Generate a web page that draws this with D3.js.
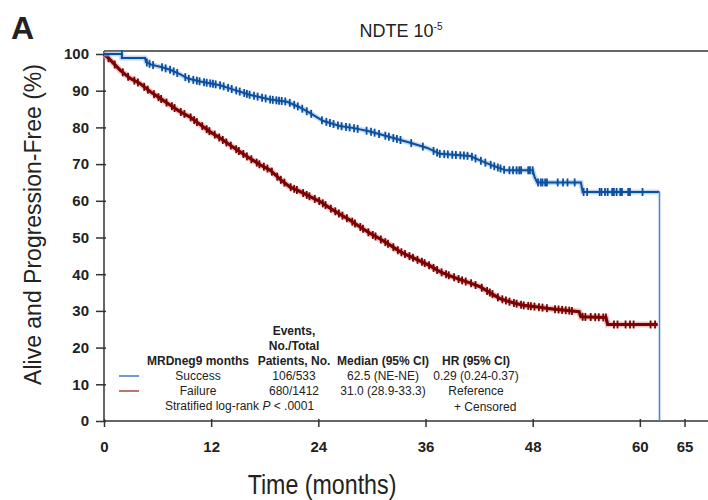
<!DOCTYPE html>
<html>
<head>
<meta charset="utf-8">
<script src="https://cdn.jsdelivr.net/npm/d3@7"></script>
<style>
  body { margin: 0; background: #fff; }
  svg text { font-family: "Liberation Sans", Arial, sans-serif; fill: #222; }
</style>
</head>
<body>
<div class="chart"></div>
<script>
// survival curves: [month, % alive and progression-free]
const successCurve = [
  [0, 100], [2.0, 100], [2.0, 98.9], [4.6, 98.9], [4.7, 97.8], [5.3, 97.1],
  [6.5, 96.4], [7.4, 95.7], [8.5, 94.5], [9.4, 93.3], [10.8, 92.5], [13.0, 91.5],
  [14.5, 90.3], [16.3, 88.9], [18.6, 87.6], [20.5, 87.0], [21.9, 85.5], [23.0, 84.0],
  [24.5, 81.8], [26.4, 80.4], [28.0, 79.8], [29.8, 78.9], [32.0, 77.4], [34.3, 75.8],
  [36.2, 74.4], [37.6, 72.8], [41.0, 72.2], [42.1, 71.0], [43.6, 69.5], [45.0, 68.3],
  [48.0, 68.3], [48.2, 66.6], [48.5, 65.0], [53.4, 65.0], [53.6, 62.4], [62.2, 62.4],
  [62.2, 0]
];
const failureCurve = [
  [0, 100], [0.7, 98.4], [1.8, 95.6], [2.9, 93.4], [4.0, 92.0], [5.2, 89.7],
  [6.3, 87.9], [7.4, 86.1], [8.5, 84.3], [9.6, 82.9], [10.8, 80.7], [11.9, 78.8],
  [13.0, 77.1], [14.1, 75.2], [15.2, 73.4], [16.3, 71.6], [17.5, 69.8], [18.6, 68.4],
  [19.7, 65.9], [20.8, 63.8], [21.9, 62.6], [23.1, 61.1], [24.2, 59.8], [25.3, 58.0],
  [26.4, 56.4], [27.5, 54.8], [28.6, 53.0], [29.8, 51.1], [30.9, 49.6], [32.0, 48.0],
  [33.1, 46.2], [34.3, 44.8], [35.4, 43.6], [36.5, 42.3], [37.6, 40.7], [38.7, 39.6],
  [40.0, 38.4], [41.0, 37.6], [42.1, 36.6], [43.2, 35.0], [44.3, 33.4], [45.8, 32.2],
  [47.0, 31.5], [48.8, 31.0], [49.6, 30.7], [53.2, 29.8], [53.4, 28.4], [56.2, 28.2],
  [56.4, 26.3], [62.0, 26.3]
];

// censoring times (months)
const successCensored = [
  2.0, 4.8, 5.1, 5.5, 6.5, 6.9, 7.4, 7.8, 8.2, 9.1, 9.5, 10.0, 10.4, 10.7,
  11.2, 11.5, 11.9, 12.2, 12.5, 13.0, 13.4, 13.9, 14.3, 14.8, 15.2, 15.7, 16.0,
  16.3, 16.8, 17.2, 17.7, 18.1, 18.6, 18.9, 19.3, 19.6, 19.9, 20.3, 20.8, 21.3,
  21.7, 22.2, 22.7, 23.2, 24.4, 24.9, 25.3, 25.7, 26.2, 26.6, 27.1, 27.5, 28.0,
  28.4, 29.4, 29.9, 30.3, 30.8, 31.5, 31.9, 32.4, 32.8, 33.2, 34.4, 35.7, 36.9,
  37.3, 37.6, 38.1, 38.5, 39.0, 39.4, 39.9, 40.3, 40.7, 41.2, 41.6, 42.2, 42.7,
  43.3, 43.7, 44.1, 44.4, 44.8, 45.4, 45.8, 46.2, 46.5, 46.7, 47.5, 47.7, 48.0,
  48.6, 48.9, 49.1, 49.4, 49.6, 50.8, 51.4, 51.9, 52.7, 53.7, 54.1, 55.5, 55.7,
  56.1, 56.4, 56.9, 57.1, 57.4, 57.8, 58.0, 58.7, 58.9, 60.3
];
const failureCensored = [
  0.5, 1.2, 2.1, 2.7, 3.4, 3.8, 4.5, 4.9, 5.6, 6.1, 6.4, 7.0, 7.6, 7.9, 8.6,
  9.0, 9.7, 10.1, 10.4, 11.0, 11.5, 11.8, 12.4, 12.9, 13.3, 13.7, 14.2, 14.8,
  15.1, 15.6, 16.0, 16.5, 17.1, 17.4, 17.9, 18.3, 18.8, 19.4, 19.8, 20.2, 20.9,
  21.3, 21.6, 22.3, 22.7, 23.0, 23.6, 24.1, 24.5, 24.8, 25.4, 25.9, 26.3, 26.7,
  27.2, 27.8, 28.1, 28.7, 29.0, 29.6, 30.1, 30.4, 31.0, 31.5, 31.8, 32.4, 32.9,
  33.3, 33.7, 34.2, 34.6, 35.1, 35.6, 35.9, 36.4, 36.9, 37.3, 37.8, 38.3, 38.6,
  39.2, 39.7, 40.1, 40.5, 41.1, 41.6, 42.3, 42.9, 43.2, 43.5, 44.1, 44.6, 45.0,
  45.4, 45.9, 46.2, 46.7, 47.0, 47.5, 47.8, 48.2, 48.7, 49.1, 49.6, 50.5, 50.9,
  51.3, 51.7, 52.1, 52.4, 53.6, 53.9, 54.5, 55.0, 55.4, 55.9, 56.2, 57.1, 57.5,
  58.4, 58.9, 59.3, 61.2, 61.7
];

const xTicks = [0, 12, 24, 36, 48, 60, 65];
const yTicks = [0, 10, 20, 30, 40, 50, 60, 70, 80, 90, 100];

const legendHeader = ["MRDneg9 months", "Patients, No.", "Median (95% CI)", "HR (95% CI)"];
const legendRows = [
  ["Success", "106/533", "62.5 (NE-NE)", "0.29 (0.24-0.37)"],
  ["Failure", "680/1412", "31.0 (28.9-33.3)", "Reference"]
];

const blue = "#0b4f9e", red = "#7d0000";

const width = 708, height = 500;
const svg = d3.select('.chart').append('svg')
  .attr('width', width)
  .attr('height', height);

const xScale = d3.scaleLinear().domain([0, 65]).range([104, 684.5]);
const yScale = d3.scaleLinear().domain([0, 100]).range([421, 54]);

// frame: top line + axes
const frameTop = yScale(100) - 3;
svg.append('line')
  .attr('x1', xScale(0)).attr('x2', width)
  .attr('y1', frameTop).attr('y2', frameTop)
  .attr('stroke', '#333').attr('stroke-width', 1.5);
svg.append('line')
  .attr('x1', xScale(0)).attr('x2', width)
  .attr('y1', yScale(0)).attr('y2', yScale(0))
  .attr('stroke', '#333').attr('stroke-width', 1.5);
svg.append('line')
  .attr('x1', xScale(0)).attr('x2', xScale(0))
  .attr('y1', frameTop).attr('y2', yScale(0))
  .attr('stroke', '#333').attr('stroke-width', 1.5);

const xAxis = d3.axisBottom(xScale).tickValues(xTicks).tickSize(6).tickSizeOuter(0);
const gx = svg.append('g')
  .attr('class', 'axis x-axis')
  .attr('transform', `translate(0, ${yScale(0)})`)
  .call(xAxis);
gx.select('.domain').remove();
gx.selectAll('.tick line').attr('stroke', '#333').attr('stroke-width', 1.5).attr('y1', -2);
gx.selectAll('.tick text')
  .attr('y', 20)
  .style('font-size', '15px')
  .style('font-weight', 'bold')
  .attr('fill', '#333');

const yAxis = d3.axisLeft(yScale).tickValues(yTicks).tickSize(8).tickSizeOuter(0);
const gy = svg.append('g')
  .attr('class', 'axis y-axis')
  .attr('transform', `translate(${xScale(0)}, 0)`)
  .call(yAxis);
gy.select('.domain').remove();
gy.selectAll('.tick line').attr('stroke', '#333').attr('stroke-width', 1.5).attr('x1', 2);
gy.selectAll('.tick text')
  .attr('x', -15)
  .style('font-size', '15px')
  .style('font-weight', 'bold')
  .attr('fill', '#333');

// curves
const line = d3.line().x(d => xScale(d[0])).y(d => yScale(d[1]));

function valueAt(curve, t) {
  // position on the drawn line at time t
  for (let i = 1; i < curve.length; i++) {
    const a = curve[i - 1], b = curve[i];
    if (t <= b[0]) {
      if (b[0] === a[0]) return a[1];
      return a[1] + (b[1] - a[1]) * (t - a[0]) / (b[0] - a[0]);
    }
  }
  return curve[curve.length - 1][1];
}

function drawCurve(curve, censored, color, halo, lw) {
  svg.append('path').datum(curve)
    .attr('fill', 'none').attr('stroke', halo).attr('stroke-width', lw + 3)
    .attr('stroke-opacity', 0.6).attr('d', line);
  svg.append('path').datum(curve)
    .attr('fill', 'none').attr('stroke', color).attr('stroke-width', lw)
    .attr('d', line);
  svg.append('g').selectAll('line')
    .data(censored)
    .enter()
    .append('line')
      .attr('x1', d => xScale(d)).attr('x2', d => xScale(d))
      .attr('y1', d => yScale(valueAt(curve, d)) - 4)
      .attr('y2', d => yScale(valueAt(curve, d)) + 4)
      .attr('stroke', color).attr('stroke-width', 1.8);
}

const successBody = successCurve.slice(0, -1);
drawCurve(failureCurve, failureCensored, red, '#d9a3a3', 3.2);
drawCurve(successBody, successCensored, blue, '#9dbce6', 2);
// final drop of the success curve
svg.append('path').datum(successCurve.slice(-2))
  .attr('fill', 'none').attr('stroke', '#4f86cc').attr('stroke-width', 1.6)
  .attr('d', line);

// titles
svg.append('text')
  .attr('x', 11).attr('y', 39)
  .style('font-size', '32px').style('font-weight', 'bold')
  .attr('fill', '#000')
  .text('A');

const title = svg.append('text')
  .attr('x', 401).attr('y', 37)
  .attr('text-anchor', 'middle')
  .style('font-size', '18px');
title.append('tspan').text('NDTE 10');
title.append('tspan').attr('dy', -7).style('font-size', '10px').text('-5');

svg.append('text')
  .attr('transform', `translate(41, ${yScale(50) - 13}) rotate(-90)`)
  .attr('text-anchor', 'middle')
  .style('font-size', '23px')
  .text('Alive and Progression-Free (%)');

svg.append('text')
  .attr('transform', 'translate(322, 494) scale(0.86, 1)')
  .attr('text-anchor', 'middle')
  .style('font-size', '27px')
  .text('Time (months)');

// legend table
const colX = [198, 294, 383, 476];
const legend = svg.append('g').attr('class', 'legend').style('font-size', '12px');
legend.append('text').attr('x', colX[1]).attr('y', 335).attr('text-anchor', 'middle')
  .style('font-weight', 'bold').text('Events,');
legend.append('text').attr('x', colX[1]).attr('y', 350).attr('text-anchor', 'middle')
  .style('font-weight', 'bold').text('No./Total');
legend.selectAll('.hdr')
  .data(legendHeader)
  .enter()
  .append('text')
    .attr('class', 'hdr')
    .attr('x', (d, i) => colX[i]).attr('y', 365)
    .attr('text-anchor', 'middle')
    .style('font-weight', 'bold')
    .text(d => d);

legendRows.forEach((row, r) => {
  const y = 380 + r * 15;
  legend.append('line')
    .attr('x1', 119).attr('x2', 139)
    .attr('y1', y - 4).attr('y2', y - 4)
    .attr('stroke', r === 0 ? '#3d78c4' : '#a04848').attr('stroke-width', 1.5);
  legend.selectAll('.row' + r)
    .data(row)
    .enter()
    .append('text')
      .attr('class', 'row' + r)
      .attr('x', (d, i) => colX[i]).attr('y', y)
      .attr('text-anchor', 'middle')
      .attr('fill', '#333')
      .text(d => d);
});

const logrank = legend.append('text').attr('x', 165).attr('y', 410).attr('fill', '#333');
logrank.append('tspan').text('Stratified log-rank ');
logrank.append('tspan').style('font-style', 'italic').text('P');
logrank.append('tspan').text(' < .0001');

legend.append('text').attr('x', 454).attr('y', 411).attr('fill', '#333')
  .text('+  Censored');
</script>
</body>
</html>
